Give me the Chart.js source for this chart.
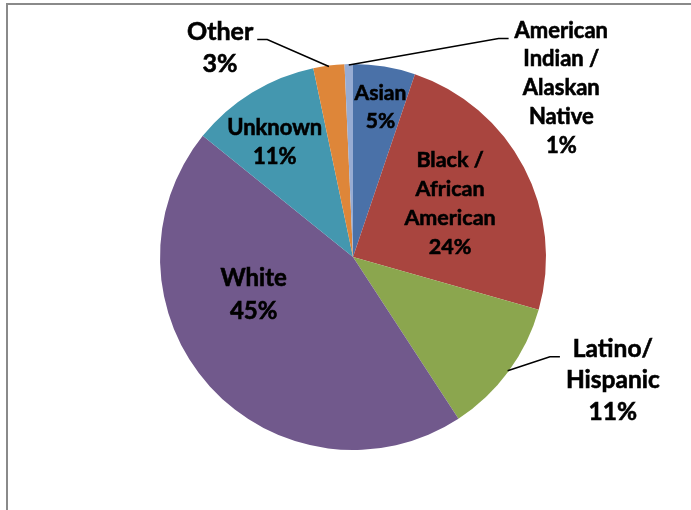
<!DOCTYPE html>
<html>
<head>
<meta charset="utf-8">
<script src="https://cdn.jsdelivr.net/npm/chart.js@4"></script>
<style>
    html, body { margin: 0; padding: 0; background: #fff; }
    #wrap { position: relative; width: 691px; height: 510px; overflow: hidden; }
    #frame {
        position: absolute; left: 6px; top: 3px; width: 800px; height: 700px;
        border-left: 2px solid #8a8a8a; border-top: 2px solid #8a8a8a;
        pointer-events: none;
    }
</style>
</head>
<body>
<div id="wrap">
    <canvas id="pie"></canvas>
    <div id="frame"></div>
</div>
<script>
// data, clockwise from 12 o'clock
const categories = ["Asian", "Black / African American", "Latino/ Hispanic", "White", "Unknown", "Other", "American Indian / Alaskan Native"];
const labelLines = [["Asian"], ["Black /", "African", "American"], ["Latino/", "Hispanic"], ["White"], ["Unknown"], ["Other"], ["American", "Indian /", "Alaskan", "Native"]];
const shares = [5.2, 24.2, 11.4, 45.0, 10.9, 2.6, 0.7];

const sliceColors = ["#4a71a8", "#a9453f", "#8ba64e", "#71598c", "#4497af", "#de8639", "#97acd3"];

// label placement: radius as fraction of pie radius, angle shift from slice middle (deg)
const placement = [
    { r: 0.79, shift: 1, lh: 28, size: 21 },
    { r: 0.575, shift: -1.3, lh: 29, size: 21.5 },
    { r: 1.49, shift: -11, lh: 31.5, size: 24.5, outside: true },
    { r: 0.55, shift: 21.5, lh: 33, size: 24 },
    { r: 0.72, shift: -2.8, lh: 29, size: 22 },
    { r: 1.285, shift: -25.2, lh: 32, size: 25, outside: true },
    { r: 1.39, shift: 52.2, lh: 28.75, size: 22, outside: true }
];

const labelPlugin = {
    id: "sliceLabels",
    afterDatasetsDraw(chart) {
        const ctx = chart.ctx;
        const arcs = chart.getDatasetMeta(0).data;
        ctx.save();
        ctx.fillStyle = "#000";
        ctx.strokeStyle = "#000";
        ctx.textAlign = "center";
        ctx.textBaseline = "middle";

        arcs.forEach(function (arc, i) {
            const p = placement[i];
            ctx.font = "bold " + p.size + "px Lato";
            const mid = (arc.startAngle + arc.endAngle) / 2;
            const a = mid + p.shift * Math.PI / 180;
            const R = arc.outerRadius;
            const bx = arc.x + Math.cos(a) * R * p.r;
            const by = arc.y + Math.sin(a) * R * p.r;

            const lines = labelLines[i].concat([Math.round(shares[i]) + "%"]);
            const top = by - (lines.length - 1) * p.lh / 2;
            let maxW = 0;
            ctx.lineWidth = 0.6;
            lines.forEach(function (t, k) {
                ctx.fillText(t, bx, top + k * p.lh);
                ctx.strokeText(t, bx, top + k * p.lh);
                maxW = Math.max(maxW, ctx.measureText(t).width);
            });

            if (p.outside) {
                const onRight = bx > arc.x;
                const ax = onRight ? bx - maxW / 2 - 6 : bx + maxW / 2 + 4;
                const ay = top + 8;
                const hx = onRight ? ax - 10 : ax + 10;
                const ex = arc.x + Math.cos(mid) * (R - 1);
                const ey = arc.y + Math.sin(mid) * (R - 1);
                ctx.beginPath();
                ctx.lineWidth = 1.5;
                ctx.moveTo(ax, ay);
                ctx.lineTo(hx, ay);
                ctx.lineTo(ex, ey);
                ctx.stroke();
            }
        });
        ctx.restore();
    }
};

new Chart(document.getElementById("pie"), {
    type: "pie",
    data: {
        labels: categories,
        datasets: [{
            data: shares,
            backgroundColor: sliceColors,
            borderWidth: 0
        }]
    },
    options: {
        responsive: true,
        maintainAspectRatio: false,
        animation: false,
        layout: {
            padding: { top: 64, bottom: 60, left: 160, right: 145 }
        },
        plugins: {
            legend: { display: false },
            tooltip: { enabled: false }
        }
    },
    plugins: [labelPlugin]
});
</script>
</body>
</html>
